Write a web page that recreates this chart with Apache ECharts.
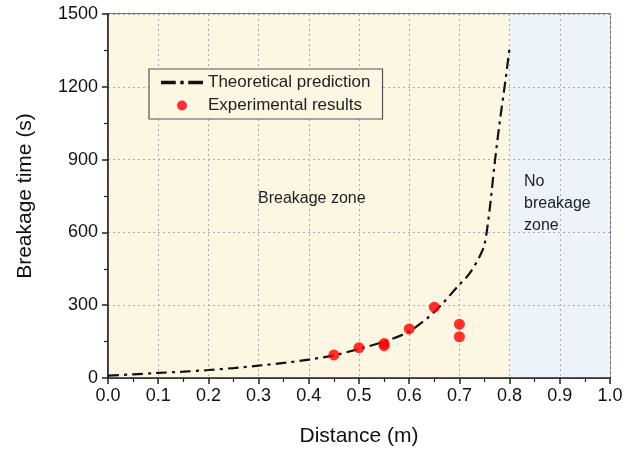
<!DOCTYPE html>
<html>
<head>
<meta charset="utf-8">
<script src="https://cdn.jsdelivr.net/npm/echarts@6/dist/echarts.min.js"></script>
<style>
  html, body { margin: 0; padding: 0; background: #fff; }
  #main { width: 626px; height: 452px; }
</style>
</head>
<body>
<div id="main"></div>
<script>
// theoretical curve
var curveX = [0, 0.05, 0.1, 0.15, 0.2, 0.25, 0.3, 0.35, 0.4, 0.45, 0.5, 0.55, 0.6, 0.65, 0.7, 0.72, 0.74, 0.75, 0.76, 0.77, 0.78, 0.79, 0.8];
var curveY = [10, 15, 21, 26, 33, 41, 51, 62, 76, 93, 120, 150, 192, 272, 385, 430, 500, 550, 690, 880, 1050, 1200, 1360];
// experimental points
var expX = [0.45, 0.5, 0.55, 0.55, 0.6, 0.65, 0.7, 0.7];
var expY = [95, 125, 133, 142, 202, 292, 222, 170];
var xTicks = ['0.0', '0.1', '0.2', '0.3', '0.4', '0.5', '0.6', '0.7', '0.8', '0.9', '1.0'];

window.onload = function () {
  var myChart = echarts.init(document.getElementById('main'));
  var curve = curveX.map(function (x, i) { return [x, curveY[i]]; });
  var pts = expX.map(function (x, i) { return [x, expY[i]]; });
  var font = 'Liberation Sans, Arial, sans-serif';

  var option = {
    animation: false,
    textStyle: { fontFamily: font },
    grid: {
      left: 108, right: 16, top: 14, bottom: 73,
      show: true, borderColor: '#444', borderWidth: 1.5
    },
    legend: {
      orient: 'vertical',
      left: 149, top: 69, z: 6,
      itemWidth: 42, itemHeight: 10, itemGap: 6,
      padding: [5, 12, 5, 12],
      backgroundColor: '#fdf6e3',
      borderColor: '#555', borderWidth: 1.2,
      textStyle: { fontSize: 17, color: '#222', fontFamily: font },
      data: [
        { name: 'Theoretical prediction', icon: 'path://M0,0H13V3H0Z M17,0H20V3H17Z M24,0H37V3H24Z', itemStyle: { color: '#111' } },
        { name: 'Experimental results', icon: 'circle', itemStyle: { color: '#ff0000' } }
      ]
    },
    xAxis: {
      type: 'value', min: 0, max: 1, interval: 0.1, z: 2,
      name: 'Distance (m)', nameLocation: 'middle', nameGap: 48,
      nameTextStyle: { fontSize: 21, color: '#111', fontFamily: font },
      axisLine: { show: true, onZero: false, lineStyle: { color: '#222', width: 1.5 } },
      axisTick: { show: true, length: 6, lineStyle: { color: '#222', width: 1.5 } },
      minorTick: { show: true, splitNumber: 2, length: 4, lineStyle: { color: '#222', width: 1.2 } },
      axisLabel: {
        fontSize: 18, color: '#111', margin: 9,
        formatter: function (v) { return xTicks[Math.round(v * 10)]; }
      },
      splitLine: { show: true, lineStyle: { color: '#aaa', type: [2, 3], width: 1 } }
    },
    yAxis: {
      type: 'value', min: 0, max: 1500, interval: 300, z: 2,
      name: 'Breakage time (s)', nameLocation: 'middle', nameGap: 72,
      nameTextStyle: { fontSize: 21, color: '#111', fontFamily: font },
      axisLine: { show: true, lineStyle: { color: '#222', width: 1.5 } },
      axisTick: { show: true, length: 6, lineStyle: { color: '#222', width: 1.5 } },
      minorTick: { show: true, splitNumber: 2, length: 4, lineStyle: { color: '#222', width: 1.2 } },
      axisLabel: { fontSize: 18, color: '#111', margin: 10, formatter: function (v) { return String(v); } },
      splitLine: { show: true, lineStyle: { color: '#aaa', type: [2, 3], width: 1 } }
    },
    series: [
      {
        name: 'zones',
        type: 'line',
        data: [],
        z: 0,
        silent: true,
        markArea: {
          silent: true,
          z: 0,
          data: [
            [{ xAxis: 0, yAxis: 0, itemStyle: { color: '#fdf6e3' } }, { xAxis: 0.8, yAxis: 1500 }],
            [{ xAxis: 0.8, yAxis: 0, itemStyle: { color: '#ecf3fb' } }, { xAxis: 1, yAxis: 1500 }]
          ]
        }
      },
      {
        name: 'Theoretical prediction',
        type: 'line',
        data: curve,
        smooth: 0.3,
        symbol: 'none',
        z: 3,
        lineStyle: { color: '#111', width: 2.2, type: [11, 5, 3, 5] },
        itemStyle: { color: '#111' }
      },
      {
        name: 'Experimental results',
        type: 'scatter',
        data: pts,
        symbolSize: 11,
        z: 4,
        itemStyle: { color: '#ff0000' }
      }
    ],
    graphic: [
      {
        type: 'text', left: 258, top: 191, z: 10,
        style: { text: 'Breakage zone', fontSize: 16, fill: '#222', fontFamily: font }
      },
      {
        type: 'text', left: 524, top: 171, z: 10,
        style: { text: 'No\nbreakage\nzone', fontSize: 16, lineHeight: 22, fill: '#222', fontFamily: font }
      }
    ]
  };
  myChart.setOption(option);
};
</script>
</body>
</html>
